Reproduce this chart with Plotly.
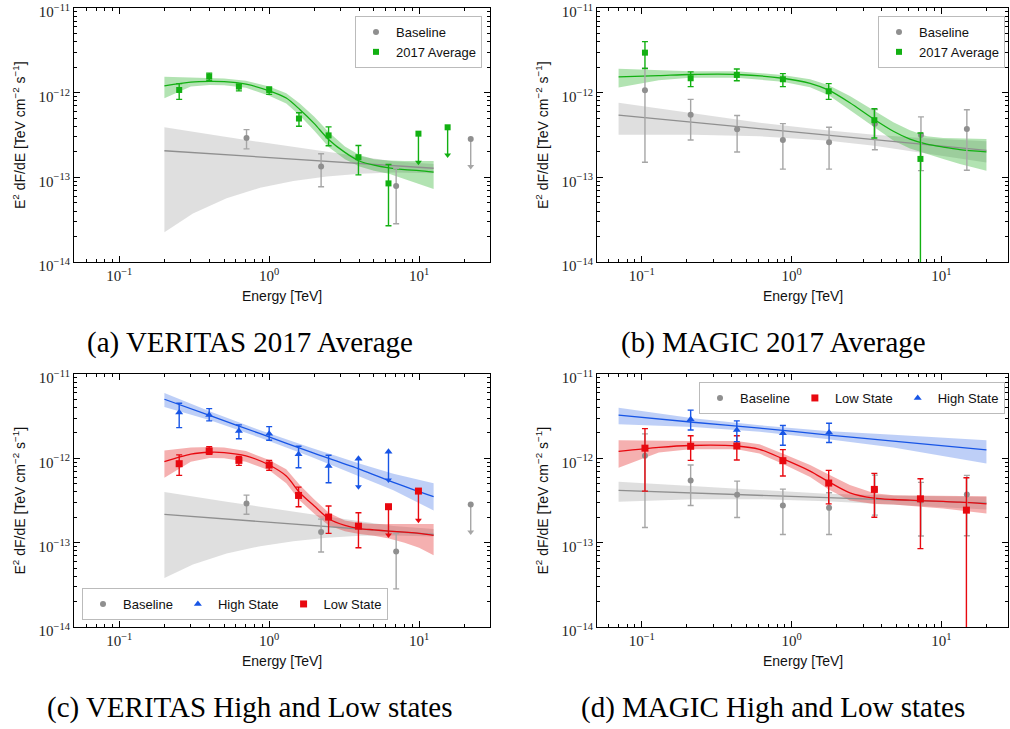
import math
import plotly.graph_objects as go

# ================= DATA =================
# ---- (a) VERITAS 2017 Average ----
va_base_E = [0.706, 2.22, 7.03]
va_base_F = [2.91e-13, 1.34e-13, 7.88e-14]
va_base_hi = [3.66e-13, 1.90e-13, 1.28e-13]
va_base_lo = [2.17e-13, 7.74e-14, 2.83e-14]
va_base_ul_E = [22.1]
va_base_ul_F = [2.83e-13]
va_base_ul_end = [1.34e-13]

va_avg_E = [0.251, 0.398, 0.628, 1.0, 1.58, 2.49, 3.94, 6.25]
va_avg_F = [1.076e-12, 1.55e-12, 1.18e-12, 1.076e-12, 4.95e-13, 3.13e-13, 1.73e-13, 8.48e-14]
va_avg_hi = [1.28e-12, 1.70e-12, 1.26e-12, 1.17e-12, 5.78e-13, 3.94e-13, 2.38e-13, 1.42e-13]
va_avg_lo = [8.33e-13, 1.38e-12, 1.05e-12, 9.55e-13, 4.01e-13, 2.36e-13, 1.07e-13, 2.68e-14]
va_avg_ul_E = [9.9, 15.5]
va_avg_ul_F = [3.28e-13, 3.90e-13]
va_avg_ul_end = [1.51e-13, 1.84e-13]

va_fit_E = [0.2, 0.3, 0.4, 0.5, 0.7, 1.0, 1.3, 1.6, 2.0, 2.5, 3.2, 4.0, 5.0, 6.3, 8.0, 10, 12.5]
va_fit_F = [1.20e-12, 1.33e-12, 1.36e-12, 1.35e-12, 1.26e-12, 1.05e-12, 8.64e-13, 6.33e-13, 4.31e-13,
            2.78e-13, 1.97e-13, 1.56e-13, 1.39e-13, 1.29e-13, 1.23e-13, 1.20e-13, 1.15e-13]
va_fit_up = [1.54e-12, 1.50e-12, 1.50e-12, 1.47e-12, 1.38e-12, 1.18e-12, 9.82e-13, 7.47e-13, 5.18e-13,
             3.40e-13, 2.32e-13, 1.83e-13, 1.64e-13, 1.58e-13, 1.56e-13, 1.56e-13, 1.56e-13]
va_fit_dn = [8.57e-13, 1.18e-12, 1.23e-12, 1.22e-12, 1.14e-12, 9.21e-13, 7.47e-13, 5.37e-13, 3.56e-13,
             2.26e-13, 1.64e-13, 1.34e-13, 1.20e-13, 1.10e-13, 9.55e-14, 8.33e-14, 7.26e-14]
va_bl_E = [0.2, 12.5]
va_bl_F = [2.06e-13, 1.28e-13]
va_blb_E = [0.2, 0.31, 0.52, 0.87, 1.45, 2.42, 4.04, 6.74, 12.5]
va_blb_up = [3.90e-13, 3.43e-13, 2.99e-13, 2.61e-13, 2.28e-13, 2.00e-13, 1.76e-13, 1.55e-13, 1.44e-13]
va_blb_dn = [2.25e-14, 3.73e-14, 5.68e-14, 7.53e-14, 9.04e-14, 1.02e-13, 1.10e-13, 1.14e-13, 1.12e-13]

# ---- (b) MAGIC 2017 Average ----
mb_base_E = [0.105, 0.212, 0.433, 0.875, 1.78, 3.60, 7.31, 14.8]
mb_base_F = [1.07e-12, 5.47e-13, 3.69e-13, 2.76e-13, 2.59e-13, 4.28e-13, 3.16e-13, 3.73e-13]
mb_base_hi = [1.95e-12, 8.33e-13, 5.37e-13, 4.31e-13, 3.90e-13, 6.33e-13, 5.18e-13, 6.28e-13]
mb_base_lo = [1.51e-13, 2.76e-13, 1.99e-13, 1.25e-13, 1.25e-13, 2.12e-13, 1.20e-13, 1.21e-13]

mb_avg_E = [0.105, 0.212, 0.431, 0.875, 1.77, 3.57, 7.25]
mb_avg_F = [2.97e-12, 1.48e-12, 1.62e-12, 1.44e-12, 1.04e-12, 4.73e-13, 1.65e-13]
mb_avg_hi = [4.01e-12, 1.76e-12, 1.90e-12, 1.68e-12, 1.28e-12, 6.45e-13, 3.34e-13]
mb_avg_lo = [1.93e-12, 1.18e-12, 1.38e-12, 1.18e-12, 8.33e-13, 2.91e-13, 1e-16]

mb_fit_E = [0.07, 0.13, 0.21, 0.43, 0.87, 1.33, 1.77, 2.45, 3.57, 4.78, 6.17, 8.0, 10.3, 13.3, 20]
mb_fit_F = [1.54e-12, 1.59e-12, 1.64e-12, 1.64e-12, 1.48e-12, 1.29e-12, 1.07e-12, 7.60e-13, 4.82e-13,
            3.50e-13, 2.83e-13, 2.47e-13, 2.28e-13, 2.13e-13, 2.00e-13]
mb_fit_up = [1.91e-12, 1.83e-12, 1.79e-12, 1.79e-12, 1.62e-12, 1.44e-12, 1.22e-12, 9.12e-13, 6.05e-13,
             4.48e-13, 3.60e-13, 3.05e-13, 2.91e-13, 2.86e-13, 2.83e-13]
mb_fit_dn = [1.15e-12, 1.40e-12, 1.50e-12, 1.50e-12, 1.35e-12, 1.16e-12, 9.29e-13, 6.33e-13, 3.90e-13,
             2.73e-13, 2.19e-13, 1.88e-13, 1.65e-13, 1.44e-13, 1.20e-13]
mb_bl_E = [0.07, 20]
mb_bl_F = [5.42e-13, 2.08e-13]
mb_blb_E = [0.07, 0.22, 0.614, 1.71, 3.57, 7.31, 20]
mb_blb_up = [7.60e-13, 5.68e-13, 4.40e-13, 3.60e-13, 3.19e-13, 2.91e-13, 2.66e-13]
mb_blb_dn = [3.19e-13, 3.19e-13, 3.05e-13, 2.73e-13, 2.36e-13, 1.97e-13, 1.50e-13]

# ---- (c) VERITAS High and Low states ----
vc_high_E = [0.251, 0.398, 0.628, 1.0, 1.57, 2.49]
vc_high_F = [3.49e-12, 3.27e-12, 2.11e-12, 1.96e-12, 1.12e-12, 8.11e-13]
vc_high_hi = [4.50e-12, 3.89e-12, 2.49e-12, 2.38e-12, 1.39e-12, 1.09e-12]
vc_high_lo = [2.31e-12, 2.78e-12, 1.71e-12, 1.64e-12, 7.74e-13, 5.14e-13]
vc_high_ul_E = [3.94, 6.25]
vc_high_ul_F = [9.91e-13, 1.20e-12]
vc_high_ul_end = [4.61e-13, 5.53e-13]

vc_low_E = [0.251, 0.398, 0.628, 1.0, 1.57, 2.49, 3.94]
vc_low_F = [8.64e-13, 1.22e-12, 9.46e-13, 8.33e-13, 3.63e-13, 2.01e-13, 1.57e-13]
vc_low_hi = [1.10e-12, 1.37e-12, 1.05e-12, 9.46e-13, 4.56e-13, 2.72e-13, 2.26e-13]
vc_low_lo = [6.28e-13, 1.12e-12, 8.26e-13, 7.20e-13, 2.67e-13, 1.29e-13, 8.69e-14]
vc_low_ul_E = [6.25, 9.9]
vc_low_ul_F = [2.67e-13, 4.09e-13]
vc_low_ul_end = [1.23e-13, 1.85e-13]

vc_hfit_E = [0.2, 0.404, 0.871, 1.88, 4.04, 6.74, 12.5]
vc_hfit_F = [5.02e-12, 3.20e-12, 1.96e-12, 1.19e-12, 7.40e-13, 5.20e-13, 3.51e-13]
vc_hfit_up = [5.97e-12, 3.58e-12, 2.15e-12, 1.34e-12, 8.64e-13, 6.58e-13, 5.05e-13]
vc_hfit_dn = [4.07e-12, 2.83e-12, 1.75e-12, 1.05e-12, 6.05e-13, 4.17e-13, 2.41e-13]

vc_lfit_E = va_fit_E
vc_lfit_F = [9.12e-13, 1.12e-12, 1.18e-12, 1.17e-12, 1.07e-12, 8.33e-13, 6.17e-13, 3.91e-13, 2.72e-13,
             1.92e-13, 1.60e-13, 1.47e-13, 1.42e-13, 1.37e-13, 1.33e-13, 1.29e-13, 1.22e-13]
vc_lfit_up = [1.24e-12, 1.34e-12, 1.36e-12, 1.34e-12, 1.22e-12, 9.55e-13, 7.40e-13, 4.82e-13, 3.26e-13,
              2.26e-13, 1.83e-13, 1.71e-13, 1.67e-13, 1.67e-13, 1.67e-13, 1.67e-13, 1.67e-13]
vc_lfit_dn = [5.89e-13, 9.12e-13, 1.01e-12, 1.00e-12, 9.12e-13, 7.20e-13, 5.05e-13, 3.17e-13, 2.20e-13,
              1.60e-13, 1.37e-13, 1.27e-13, 1.21e-13, 1.12e-13, 9.95e-14, 8.69e-14, 7.10e-14]
vc_bl_E = [0.2, 12.5]
vc_bl_F = [2.16e-13, 1.25e-13]
vc_blb_E = va_blb_E
vc_blb_up = [3.98e-13, 3.51e-13, 3.06e-13, 2.67e-13, 2.32e-13, 2.05e-13, 1.80e-13, 1.58e-13, 1.45e-13]
vc_blb_dn = [3.82e-14, 5.51e-14, 7.43e-14, 9.08e-14, 1.04e-13, 1.14e-13, 1.21e-13, 1.22e-13, 1.18e-13]

# ---- (d) MAGIC High and Low states ----
md_high_E = [0.212, 0.431, 0.875, 1.78]
md_high_F = [2.91e-12, 2.17e-12, 1.99e-12, 2.02e-12]
md_high_hi = [3.73e-12, 2.78e-12, 2.45e-12, 2.61e-12]
md_high_lo = [2.17e-12, 1.58e-12, 1.43e-12, 1.54e-12]

md_low_E = [0.105, 0.212, 0.431, 0.875, 1.77, 3.57, 7.25, 14.7]
md_low_F = [1.32e-12, 1.39e-12, 1.40e-12, 9.38e-13, 5.09e-13, 4.28e-13, 3.31e-13, 2.43e-13]
md_low_hi = [2.25e-12, 1.85e-12, 1.85e-12, 1.27e-12, 7.20e-13, 6.63e-13, 5.73e-13, 5.89e-13]
md_low_lo = [4.08e-13, 9.46e-13, 9.55e-13, 6.17e-13, 2.88e-13, 2.00e-13, 8.49e-14, 1e-16]

md_hfit_E = [0.07, 0.22, 0.614, 1.71, 4.78, 20]
md_hfit_F = [3.25e-12, 2.68e-12, 2.28e-12, 1.90e-12, 1.60e-12, 1.26e-12]
md_hfit_up = [3.97e-12, 2.99e-12, 2.47e-12, 2.11e-12, 1.90e-12, 1.64e-12]
md_hfit_dn = [2.54e-12, 2.36e-12, 2.06e-12, 1.70e-12, 1.34e-12, 8.71e-13]

md_lfit_E = [0.07, 0.13, 0.21, 0.43, 0.61, 0.87, 1.33, 1.77, 2.45, 3.57, 4.78, 6.17, 8.0, 10.3, 13.3, 20]
md_lfit_F = [1.21e-12, 1.35e-12, 1.42e-12, 1.40e-12, 1.28e-12, 9.91e-13, 7.06e-13, 5.27e-13, 3.90e-13,
             3.37e-13, 3.25e-13, 3.19e-13, 3.13e-13, 3.08e-13, 3.02e-13, 2.88e-13]
md_lfit_up = [1.64e-12, 1.61e-12, 1.61e-12, 1.61e-12, 1.47e-12, 1.14e-12, 8.33e-13, 6.45e-13, 4.82e-13,
              3.86e-13, 3.66e-13, 3.63e-13, 3.63e-13, 3.60e-13, 3.56e-13, 3.56e-13]
md_lfit_dn = [7.74e-13, 1.17e-12, 1.28e-12, 1.28e-12, 1.14e-12, 8.64e-13, 6.00e-13, 4.28e-13, 3.16e-13,
              2.88e-13, 2.83e-13, 2.73e-13, 2.63e-13, 2.54e-13, 2.43e-13, 2.21e-13]
md_bl_E = [0.07, 20]
md_bl_F = [4.16e-13, 2.94e-13]
md_blb_E = [0.07, 0.22, 0.61, 1.71, 4.78, 20]
md_blb_up = [5.27e-13, 4.69e-13, 4.16e-13, 3.79e-13, 3.63e-13, 3.47e-13]
md_blb_dn = [3.05e-13, 3.28e-13, 3.28e-13, 3.10e-13, 2.83e-13, 2.47e-13]

# ---- text ----
captions = ["(a) VERITAS 2017 Average", "(b) MAGIC 2017 Average",
            "(c) VERITAS High and Low states", "(d) MAGIC High and Low states"]
x_title = "Energy [TeV]"
y_title = "E<sup>2</sup> dF/dE [TeV cm<sup>\u22122</sup> s<sup>\u22121</sup>]"
x_tickvals = [0.1, 1, 10]
x_ticktext = ["10<sup>\u22121</sup>", "10<sup>0</sup>", "10<sup>1</sup>"]
y_tickvals = [1e-14, 1e-13, 1e-12, 1e-11]
y_ticktext = ["10<sup>\u221214</sup>", "10<sup>\u221213</sup>", "10<sup>\u221212</sup>", "10<sup>\u221211</sup>"]

# ================= STYLE =================
W, H = 1010, 729
GREEN = "#12b012"
GRAY = "#8f8f8f"
GRAYERR = "#a6a6a6"
RED = "#e8080f"
BLUE = "#1755e6"
SANS = "Liberation Sans"
SERIF = "Liberation Serif"
MS = 6

fig = go.Figure()

# panel geometry (pixels: left, right, top, bottom, log x-range, caption centre)
panels = {
    1: (74, 490, 8, 262, [-1.302, 1.473], 250),
    2: (597, 1008, 8, 262, [-1.299, 1.445], 773),
    3: (74, 490, 374, 627, [-1.302, 1.473], 250),
    4: (597, 1008, 374, 627, [-1.299, 1.445], 773),
}

x_minor = [a * b for b in (0.01, 0.1, 1, 10) for a in range(2, 10)]
y_minor = [a * b for b in (1e-15, 1e-14, 1e-13, 1e-12) for a in range(2, 10)]


def ax_names(k):
    return ("x" if k == 1 else f"x{k}"), ("y" if k == 1 else f"y{k}")


def band(k, E, up, dn, color):
    xa, ya = ax_names(k)
    fig.add_trace(go.Scatter(x=list(E) + list(E)[::-1], y=list(up) + list(dn)[::-1],
                             fill="toself", fillcolor=color, line=dict(width=0),
                             mode="lines", hoverinfo="skip", showlegend=False, xaxis=xa, yaxis=ya))


def line(k, E, F, color):
    xa, ya = ax_names(k)
    fig.add_trace(go.Scatter(x=E, y=F, mode="lines", line=dict(color=color, width=1.3, shape="spline", smoothing=0.8),
                             showlegend=False, hoverinfo="skip", xaxis=xa, yaxis=ya))


def points(k, E, F, lo, hi, color, errcolor, symbol, size, name, legend, rank, show=True):
    xa, ya = ax_names(k)
    fig.add_trace(go.Scatter(
        x=E, y=F, mode="markers", name=name,
        marker=dict(color=color, symbol=symbol, size=size, line=dict(width=0)),
        error_y=dict(type="data", symmetric=False,
                     array=[h - f for h, f in zip(hi, F)],
                     arrayminus=[f - l for f, l in zip(F, lo)],
                     color=errcolor, thickness=1.4, width=3),
        showlegend=show, legend=legend, legendrank=rank, xaxis=xa, yaxis=ya))


def uplims(k, E, F, end, color, errcolor, symbol, size):
    xa, ya = ax_names(k)
    xs, ys = [], []
    for e, f, d in zip(E, F, end):
        xs += [e, e, None]
        ys += [f, d, None]
    fig.add_trace(go.Scatter(x=xs, y=ys, mode="lines", line=dict(color=errcolor, width=1.4),
                             showlegend=False, hoverinfo="skip", xaxis=xa, yaxis=ya))
    fig.add_trace(go.Scatter(x=E, y=end, mode="markers",
                             marker=dict(symbol="triangle-down", color=errcolor, size=6, line=dict(width=0)),
                             showlegend=False, hoverinfo="skip", xaxis=xa, yaxis=ya))
    fig.add_trace(go.Scatter(x=E, y=F, mode="markers",
                             marker=dict(symbol=symbol, color=color, size=size, line=dict(width=0)),
                             showlegend=False, hoverinfo="skip", xaxis=xa, yaxis=ya))


GBAND = "rgba(140,140,140,0.28)"
GRBAND = "rgba(20,170,20,0.33)"
RBAND = "rgba(225,30,30,0.35)"
BBAND = "rgba(40,95,230,0.30)"

# ---- (a)
band(1, va_blb_E, va_blb_up, va_blb_dn, GBAND)
band(1, va_fit_E, va_fit_up, va_fit_dn, GRBAND)
line(1, va_bl_E, va_bl_F, GRAY)
line(1, va_fit_E, va_fit_F, GREEN)
points(1, va_base_E, va_base_F, va_base_lo, va_base_hi, GRAY, GRAYERR, "circle", MS, "Baseline", "legend", 1)
uplims(1, va_base_ul_E, va_base_ul_F, va_base_ul_end, GRAY, GRAYERR, "circle", MS)
points(1, va_avg_E, va_avg_F, va_avg_lo, va_avg_hi, GREEN, GREEN, "square", MS, "2017 Average", "legend", 2)
uplims(1, va_avg_ul_E, va_avg_ul_F, va_avg_ul_end, GREEN, GREEN, "square", MS)

# ---- (b)
band(2, mb_blb_E, mb_blb_up, mb_blb_dn, GBAND)
band(2, mb_fit_E, mb_fit_up, mb_fit_dn, GRBAND)
line(2, mb_bl_E, mb_bl_F, GRAY)
line(2, mb_fit_E, mb_fit_F, GREEN)
points(2, mb_base_E, mb_base_F, mb_base_lo, mb_base_hi, GRAY, GRAYERR, "circle", MS, "Baseline", "legend2", 1)
points(2, mb_avg_E, mb_avg_F, mb_avg_lo, mb_avg_hi, GREEN, GREEN, "square", MS, "2017 Average", "legend2", 2)

# ---- (c)
band(3, vc_blb_E, vc_blb_up, vc_blb_dn, GBAND)
band(3, vc_hfit_E, vc_hfit_up, vc_hfit_dn, BBAND)
band(3, vc_lfit_E, vc_lfit_up, vc_lfit_dn, RBAND)
line(3, vc_bl_E, vc_bl_F, GRAY)
line(3, vc_hfit_E, vc_hfit_F, BLUE)
line(3, vc_lfit_E, vc_lfit_F, RED)
points(3, va_base_E, va_base_F, va_base_lo, va_base_hi, GRAY, GRAYERR, "circle", MS, "Baseline", "legend3", 1)
uplims(3, va_base_ul_E, va_base_ul_F, va_base_ul_end, GRAY, GRAYERR, "circle", MS)
points(3, vc_high_E, vc_high_F, vc_high_lo, vc_high_hi, BLUE, BLUE, "triangle-up", MS + 1, "High State", "legend3", 2)
uplims(3, vc_high_ul_E, vc_high_ul_F, vc_high_ul_end, BLUE, BLUE, "triangle-up", MS + 1)
points(3, vc_low_E, vc_low_F, vc_low_lo, vc_low_hi, RED, RED, "square", MS + 1, "Low State", "legend3", 3)
uplims(3, vc_low_ul_E, vc_low_ul_F, vc_low_ul_end, RED, RED, "square", MS + 1)

# ---- (d)
band(4, md_blb_E, md_blb_up, md_blb_dn, GBAND)
band(4, md_hfit_E, md_hfit_up, md_hfit_dn, BBAND)
band(4, md_lfit_E, md_lfit_up, md_lfit_dn, RBAND)
line(4, md_bl_E, md_bl_F, GRAY)
line(4, md_hfit_E, md_hfit_F, BLUE)
line(4, md_lfit_E, md_lfit_F, RED)
points(4, mb_base_E, mb_base_F, mb_base_lo, mb_base_hi, GRAY, GRAYERR, "circle", MS, "Baseline", "legend4", 1)
points(4, md_low_E, md_low_F, md_low_lo, md_low_hi, RED, RED, "square", MS + 1, "Low State", "legend4", 2)
points(4, md_high_E, md_high_F, md_high_lo, md_high_hi, BLUE, BLUE, "triangle-up", MS + 1, "High State", "legend4", 3)

# ---- axes
layout = {}
annotations = []
for k, (l, r, t, b, xr, cap_x) in panels.items():
    xkey = "xaxis" if k == 1 else f"xaxis{k}"
    ykey = "yaxis" if k == 1 else f"yaxis{k}"
    xa, ya = ax_names(k)
    common = dict(type="log", showline=True, linecolor="black", linewidth=1.2, mirror="allticks",
                  ticks="inside", ticklen=6, tickwidth=1, tickcolor="black", showgrid=False, zeroline=False,
                  tickmode="array", automargin=False, ticklabeloverflow="allow",
                  tickfont=dict(family=SERIF, size=15, color="#222"))
    layout[xkey] = dict(common, domain=[l / W, r / W], range=xr, anchor=ya,
                        tickvals=x_tickvals, ticktext=x_ticktext,
                        minor=dict(tickmode="array", tickvals=x_minor, ticks="inside", ticklen=3,
                                   tickcolor="black", showgrid=False))
    layout[ykey] = dict(common, domain=[1 - b / H, 1 - t / H], range=[-14, -11], anchor=xa,
                        tickvals=y_tickvals, ticktext=y_ticktext, ticklabelshift=4,
                        minor=dict(tickmode="array", tickvals=y_minor, ticks="inside", ticklen=3,
                                   tickcolor="black", showgrid=False))
    # axis titles
    annotations.append(dict(text=x_title, x=(l + r) / 2 / W, y=1 - (b + 34) / H, xref="paper", yref="paper",
                            showarrow=False, xanchor="center", yanchor="middle",
                            font=dict(family=SANS, size=14, color="#111")))
    annotations.append(dict(text=y_title, x=(l - 55) / W, y=1 - (t + b) / 2 / H, xref="paper", yref="paper",
                            showarrow=False, xanchor="center", yanchor="middle", textangle=-90,
                            font=dict(family=SANS, size=14, color="#111")))
    annotations.append(dict(text=captions[k - 1], x=cap_x / W,
                            y=1 - (b + 80) / H, xref="paper", yref="paper",
                            showarrow=False, xanchor="center", yanchor="middle",
                            font=dict(family=SERIF, size=29, color="black")))

legstyle = dict(bgcolor="rgba(255,255,255,0.85)", bordercolor="#bbbbbb", borderwidth=1,
                font=dict(family=SANS, size=13, color="#111"), itemsizing="trace", itemwidth=30)
layout["legend"] = dict(legstyle, x=482 / W, y=1 - 16 / H, xanchor="right", yanchor="top")
layout["legend2"] = dict(legstyle, x=1005 / W, y=1 - 16 / H, xanchor="right", yanchor="top")
layout["legend3"] = dict(legstyle, x=82 / W, y=1 - 620 / H, xanchor="left", yanchor="bottom",
                         orientation="h")
layout["legend4"] = dict(legstyle, x=1005 / W, y=1 - 382 / H, xanchor="right", yanchor="top",
                         orientation="h")

fig.update_layout(**layout)
fig.update_layout(width=W, height=H, margin=dict(l=0, r=0, t=0, b=0),
                  paper_bgcolor="white", plot_bgcolor="white",
                  annotations=annotations, showlegend=True)

fig.write_html("out.html", config={"displayModeBar": False},
               post_script="document.body.style.margin='0';document.body.style.overflow='hidden';")
